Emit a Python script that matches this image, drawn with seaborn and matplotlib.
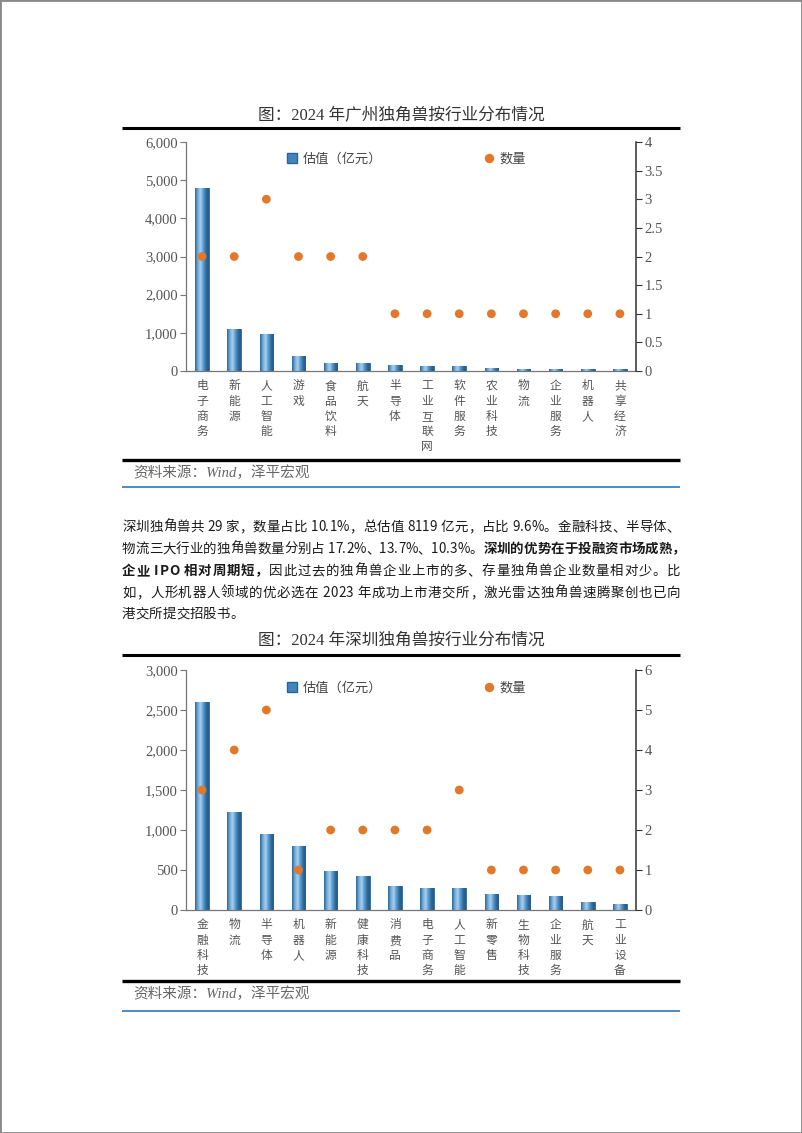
import numpy as np
import matplotlib
matplotlib.use('Agg')
import matplotlib.pyplot as plt
import seaborn as sns
from matplotlib.lines import Line2D
from matplotlib.patches import Rectangle
from matplotlib.colors import LinearSegmentedColormap
from matplotlib.ticker import FuncFormatter, MultipleLocator

# ---------------- data ----------------
gz_title = '图：2024 年广州独角兽按行业分布情况'
gz_industries = ['电子商务', '新能源', '人工智能', '游戏', '食品饮料', '航天', '半导体',
                 '工业互联网', '软件服务', '农业科技', '物流', '企业服务', '机器人', '共享经济']
gz_valuation = [4800, 1100, 970, 390, 210, 200, 150, 140, 120, 70, 60, 60, 60, 60]
gz_count = [2, 2, 3, 2, 2, 2, 1, 1, 1, 1, 1, 1, 1, 1]

sz_title = '图：2024 年深圳独角兽按行业分布情况'
sz_industries = ['金融科技', '物流', '半导体', '机器人', '新能源', '健康科技', '消费品',
                 '电子商务', '人工智能', '新零售', '生物科技', '企业服务', '航天', '工业设备']
sz_valuation = [2600, 1220, 950, 800, 490, 420, 300, 270, 270, 200, 190, 170, 95, 70]
sz_count = [3, 4, 5, 1, 2, 2, 2, 2, 3, 1, 1, 1, 1, 1]

legend_labels = ['估值（亿元）', '数量']
source_text = '资料来源：Wind，泽平宏观'

para_lines = [
    [('深圳独角兽共 29 家，数量占比 10.1%，总估值 8119 亿元，占比 9.6%。金融科技、半导体、', False)],
    [('物流三大行业的独角兽数量分别占 17.2%、13.7%、10.3%。', False), ('深圳的优势在于投融资市场成熟，', True)],
    [('企业 IPO 相对周期短，', True), ('因此过去的独角兽企业上市的多、存量独角兽企业数量相对少。比', False)],
    [('如，人形机器人领域的优必选在 2023 年成功上市港交所，激光雷达独角兽速腾聚创也已向', False)],
    [('港交所提交招股书。', False)],
]

# ---------------- style ----------------
sns.set_theme(style='white')
SERIF = ['Liberation Serif', 'Noto Sans CJK SC', 'DejaVu Sans']
SANS = ['Noto Sans CJK SC', 'DejaVu Sans']
plt.rcParams['font.family'] = SERIF
plt.rcParams['axes.unicode_minus'] = False

BLUE = '#3f86bf'
BLUE_EDGE = '#2a6494'
ORANGE = '#e2792a'
GRAY = '#555555'
W, H = 802, 1133

fig = plt.figure(figsize=(W / 100, H / 100), dpi=100)
fig.patch.set_facecolor('white')
renderer = fig.canvas.get_renderer()

grad_cmap = LinearSegmentedColormap.from_list(
    'cyl', ['#2b6698', '#6fa9d6', '#a9d0ee', '#5d9ccd', '#2f6c9f', '#245a86'])


def fx(x):
    return x / W


def fy(y):
    return 1 - y / H


def hline(x0, x1, y, color, lw):
    fig.add_artist(Line2D([fx(x0), fx(x1)], [fy(y), fy(y)], transform=fig.transFigure,
                          color=color, lw=lw, solid_capstyle='butt'))


def draw_chart(rect, cats, vals, counts, lmax, lstep, rmax, rstep, rfmt):
    ax = fig.add_axes(rect)
    n = len(cats)
    sns.barplot(x=cats, y=vals, order=cats, ax=ax, color=BLUE, saturation=1,
                width=0.42, edgecolor=BLUE_EDGE, linewidth=0.6, zorder=2)
    ax.set_xlim(-0.5, n - 0.5)
    ax.set_ylim(0, lmax)
    grad = np.linspace(0, 1, 64).reshape(1, -1)
    for p in list(ax.patches):
        x0, w, h = p.get_x(), p.get_width(), p.get_height()
        im = ax.imshow(grad, extent=[x0, x0 + w, 0, h], aspect='auto', cmap=grad_cmap,
                       zorder=2.5, interpolation='bilinear')
        im.set_clip_path(p)
    ax.set_xlim(-0.5, n - 0.5)
    ax.set_ylim(0, lmax)
    ax.set_aspect('auto')

    ax.yaxis.set_major_locator(MultipleLocator(lstep))
    ax.yaxis.set_major_formatter(FuncFormatter(lambda v, p: f'{int(v):,}'))
    ax.set_xticks(range(n))
    ax.set_xticklabels(['\n'.join(c) for c in cats], fontsize=8.5, linespacing=1.22,
                       color=GRAY, family=SANS, va='top')
    ax.set_xticks(np.arange(-0.5, n, 1), minor=True)
    ax.tick_params(axis='x', which='major', length=0, pad=6)
    ax.tick_params(axis='x', which='minor', length=4, width=0.8, color='#777', direction='out')
    ax.tick_params(axis='y', which='major', length=4, width=0.8, color='#777',
                   direction='out', labelsize=10.5, labelcolor=GRAY, pad=2)
    ax.set_xlabel('')
    ax.set_ylabel('')
    for s in ['top', 'right']:
        ax.spines[s].set_visible(False)
    for s in ['left', 'bottom']:
        ax.spines[s].set_color('#777')
        ax.spines[s].set_linewidth(0.9)
    ax.grid(False)

    ax2 = ax.twinx()
    sns.scatterplot(x=np.arange(n), y=counts, ax=ax2, color=ORANGE, s=40,
                    edgecolor='none', zorder=4, legend=False)
    ax2.set_xlim(-0.5, n - 0.5)
    ax2.set_ylim(0, rmax)
    ax2.yaxis.set_major_locator(MultipleLocator(rstep))
    ax2.yaxis.set_major_formatter(FuncFormatter(rfmt))
    ax2.tick_params(axis='y', length=4, width=0.8, color='#333', direction='out',
                    labelsize=10.5, labelcolor=GRAY, pad=2)
    for s in ['top', 'left', 'bottom']:
        ax2.spines[s].set_visible(False)
    ax2.spines['right'].set_color('#333')
    ax2.spines['right'].set_linewidth(1.1)
    ax2.set_ylabel('')
    ax2.grid(False)

    handles = [Line2D([], [], marker='s', linestyle='', markerfacecolor=BLUE,
                      markeredgecolor=BLUE_EDGE, markersize=7),
               Line2D([], [], marker='o', linestyle='', markerfacecolor=ORANGE,
                      markeredgecolor='none', markersize=6.8)]
    leg = ax2.legend(handles, legend_labels, loc='center left', bbox_to_anchor=(0.197, 0.925),
                     ncol=2, frameon=False, columnspacing=7.6, handletextpad=0.35,
                     handlelength=0.9, prop={'family': SANS, 'size': 9.5})
    for t in leg.get_texts():
        t.set_color('#444')
    return ax, ax2


def num_fmt(v, p):
    return f'{v:g}'


# ---------------- chart 1 (Guangzhou) ----------------
fig.text(0.5, fy(115), gz_title, ha='center', va='center', fontsize=12, color='#333')
hline(122, 680, 128, 'black', 2.2)
draw_chart([fx(186), fy(371), fx(636) - fx(186), fy(142) - fy(371)],
           gz_industries, gz_valuation, gz_count, 6000, 1000, 4, 0.5, num_fmt)
hline(122, 680, 460, 'black', 2.4)
fig.text(fx(133), fy(473), source_text, ha='left', va='center', fontsize=10.5,
         color='#666', style='italic', family=SERIF)
hline(122, 680, 487, '#3b82c4', 1.3)

# ---------------- paragraph (justified) ----------------
PFS = 9.7
LEFT, RIGHT = 122, 680


def text_w(s, bold):
    t = fig.text(0, 0, s, fontsize=PFS, family=SANS, fontweight='bold' if bold else 'normal')
    w = t.get_window_extent(renderer).width
    t.remove()
    return w


base_n = text_w('xx', False)
base_b = text_w('xx', True)
width_cache = {}


def char_w(ch, bold):
    key = (ch, bold)
    if key not in width_cache:
        width_cache[key] = text_w('x' + ch + 'x', bold) - (base_b if bold else base_n)
    return width_cache[key]


line_y = [527, 549, 571, 593, 614]
for i, (yy, segs) in enumerate(zip(line_y, para_lines)):
    chars = [(ch, b) for txt, b in segs for ch in txt]
    widths = [char_w(ch, b) for ch, b in chars]
    natural = sum(widths)
    justify = i < len(para_lines) - 1
    gap = (RIGHT - LEFT - natural) / (len(chars) - 1) if justify else 0.0
    gap = max(gap, 0.0)
    x = LEFT
    for (ch, b), w in zip(chars, widths):
        if ch != ' ':
            fig.text(fx(x), fy(yy), ch, ha='left', va='center', fontsize=PFS,
                     family=SANS, color='#1a1a1a', fontweight='bold' if b else 'normal')
        x += w + gap

# ---------------- chart 2 (Shenzhen) ----------------
fig.text(0.5, fy(641), sz_title, ha='center', va='center', fontsize=12, color='#333')
hline(122, 680, 655, 'black', 2.2)
draw_chart([fx(186), fy(910), fx(636) - fx(186), fy(670) - fy(910)],
           sz_industries, sz_valuation, sz_count, 3000, 500, 6, 1, num_fmt)
hline(122, 680, 981, 'black', 2.4)
fig.text(fx(133), fy(994), source_text, ha='left', va='center', fontsize=10.5,
         color='#666', style='italic', family=SERIF)
hline(122, 680, 1011, '#3b82c4', 1.3)

# page border
fig.add_artist(Rectangle((0, 0), 1, 1, transform=fig.transFigure, fill=False,
                         edgecolor='#888888', lw=2))

fig.savefig('out.png', dpi=100, facecolor='white')
